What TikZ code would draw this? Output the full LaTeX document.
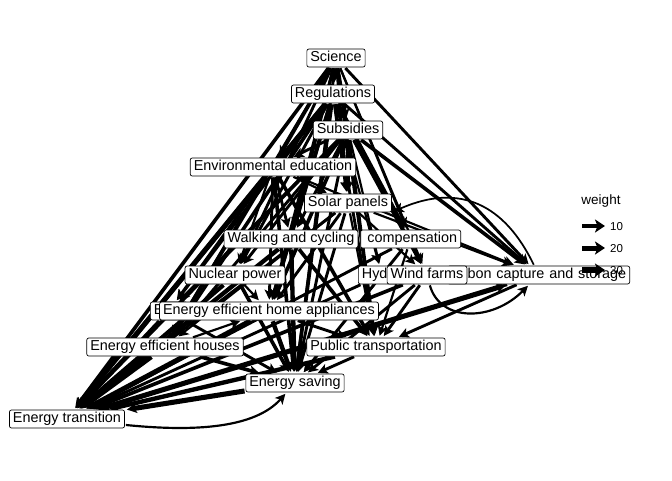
\documentclass[tikz,border=0pt]{standalone}
\usepackage{fontspec}
\setmainfont{Liberation Sans}
\usetikzlibrary{arrows.meta}
\begin{document}
\begin{tikzpicture}[x=1pt,y=-1pt,
  lbl/.style={draw=black, fill=white, rounded corners=2pt, line width=0.7pt,
    inner xsep=3.5pt, inner ysep=2pt, text height=10.8pt, text depth=3.2pt,
    font=\fontsize{14.4}{16}\selectfont},
  ed/.style={line width=1.45*#1, -{Stealth[length=10pt,width=10pt,inset=2.5pt]},
    shorten >=2pt, shorten <=1pt},
  legarr/.style={line width=#1, -{Stealth[length=10pt,width=13pt,inset=2.5pt]}},
  legtxt/.style={font=\fontsize{11.5}{13}\selectfont, anchor=west, inner sep=0pt}]
\useasboundingbox (0,0) rectangle (672,480);
\fill[white] (0,0) rectangle (672,480);
% node placeholders (invisible) for edge routing
\begin{scope}[every node/.style={lbl, draw=none, fill=none, text opacity=0}]
\node (SC) at (336,58) {Science};
\node (RE) at (333,94) {Regulations};
\node (SU) at (348,130) {Subsidies};
\node (EE) at (273,167) {Environmental education};
\node (SP) at (348,203) {Solar panels};
\node (WC) at (291,239) {Walking and cycling};
\node[anchor=east, text width=93pt, align=right] (CO) at (461,239) {compensation};
\node (NP) at (235,275) {Nuclear power};
\node[anchor=west, text width=40pt, align=left] (HY) at (358,275) {Hyd};
\node (WF) at (427,275) {Wind farms};
\node[anchor=east, text width=175pt, align=right] (CC) at (630,275) {bon capture and storage};
\node[anchor=west, text width=30pt, align=left] (EC) at (150,311) {E};
\node (EEA) at (269,311) {Energy efficient home appliances};
\node (EEH) at (165,347) {Energy efficient houses};
\node (PT) at (376,347) {Public transportation};
\node (ES) at (295,383) {Energy saving};
\node (ET) at (67,419) {Energy transition};
\end{scope}
% edges
\foreach \s/\t/\w in {
 SC/ET/2.5, RE/ET/3, SU/ET/2.5, EE/ET/3.5, SP/ET/2, WC/ET/3, CO/ET/2, NP/ET/3,
 HY/ET/2, WF/ET/2.5, CC/ET/2, EC/ET/2.5, EEA/ET/3.5, EEH/ET/3, PT/ET/3, ES/ET/3.5,
 SC/ES/2, RE/ES/2.5, SU/ES/2, EE/ES/2.5, SP/ES/2, WC/ES/3, NP/ES/2.5, EEA/ES/3,
 EEH/ES/2.5, PT/ES/2, WF/ES/2, CO/ES/2, HY/ES/1.5, EC/ES/2,
 SC/PT/2, RE/PT/2, SU/PT/2, EE/PT/2.5, WC/PT/2.5, WF/PT/2, CC/PT/2, EEA/PT/2,
 SP/PT/1.5, CO/PT/1.5,
 SC/CC/2, RE/CC/2, SU/CC/2.5, EE/CC/1.5, SP/CC/1.5, ET/CC/3.5,
 SC/EEA/2, RE/EEA/2.5, SU/EEA/2.5, EE/EEA/2, SP/EEA/2, WC/EEA/1.5, NP/EEA/1.5, EEH/EEA/1.5,
 SC/EEH/2, RE/EEH/2.5, SU/EEH/2, EE/EEH/2.5, SP/EEH/1.5,
 SC/NP/2, RE/NP/2, SU/NP/2, EE/NP/1.5,
 SC/WC/2, RE/WC/2.5, SU/WC/2, EE/WC/2,
 SC/SP/2, RE/SP/2, SU/SP/2.5, EE/SP/1.5,
 RE/WF/2, SU/WF/2, SP/WF/1.5, SC/WF/1.5,
 RE/HY/1.5, SU/HY/1.5,
 SC/CO/1.5, RE/CO/2, SU/CO/2,
 SC/EE/2.5, RE/EE/2.5, SU/EE/2,
 SC/SU/2.5, RE/SU/3, SC/RE/3,
 RE/EC/2, EE/EC/2, SU/EC/1.5}
 {\draw[ed=\w pt] (\s) -- (\t);}
\draw[ed=1.5pt] (ET) .. controls (195,432) and (255,428) .. (ES);
\draw[ed=1.2pt] (CC) .. controls (505,205) and (460,182) .. (SP.south east);
\draw[ed=1.5pt] (WF) .. controls (440,322) and (492,322) .. (CC);
% labels
\node[lbl] at (SC) {Science};
\node[lbl] at (RE) {Regulations};
\node[lbl] at (SU) {Subsidies};
\node[lbl] at (EE) {Environmental education};
\node[lbl] at (SP) {Solar panels};
\node[lbl, text width=93pt, align=right] at (CO) {compensation};
\node[lbl] at (WC) {Walking and cycling};
\node[lbl] at (NP) {Nuclear power};
\node[lbl, text width=40pt, align=left] at (HY) {Hyd};
\node[lbl, text width=175pt, align=right] at (CC) {bon capture and storage};
\node[lbl] at (WF) {Wind farms};
\node[lbl, text width=30pt, align=left] at (EC) {E};
\node[lbl] at (EEA) {Energy efficient home appliances};
\node[lbl] at (EEH) {Energy efficient houses};
\node[lbl] at (PT) {Public transportation};
\node[lbl] at (ES) {Energy saving};
\node[lbl] at (ET) {Energy transition};
% legend
\node[font=\fontsize{13.5}{15}\selectfont, inner sep=0pt] (LT) at (601,201) {weight};
\coordinate (L1a) at (582,226); \coordinate (L1b) at (605,226);
\coordinate (L2a) at (582,248); \coordinate (L2b) at (605,248);
\coordinate (L3a) at (582,270); \coordinate (L3b) at (605,270);
\draw[legarr=4pt] (L1a) -- (L1b);
\draw[legarr=5pt] (L2a) -- (L2b);
\draw[legarr=6pt] (L3a) -- (L3b);
\node[legtxt] (N1) at (610,227) {10};
\node[legtxt] (N2) at (610,249) {20};
\node[legtxt] (N3) at (610,271) {30};
\end{tikzpicture}
\end{document}
